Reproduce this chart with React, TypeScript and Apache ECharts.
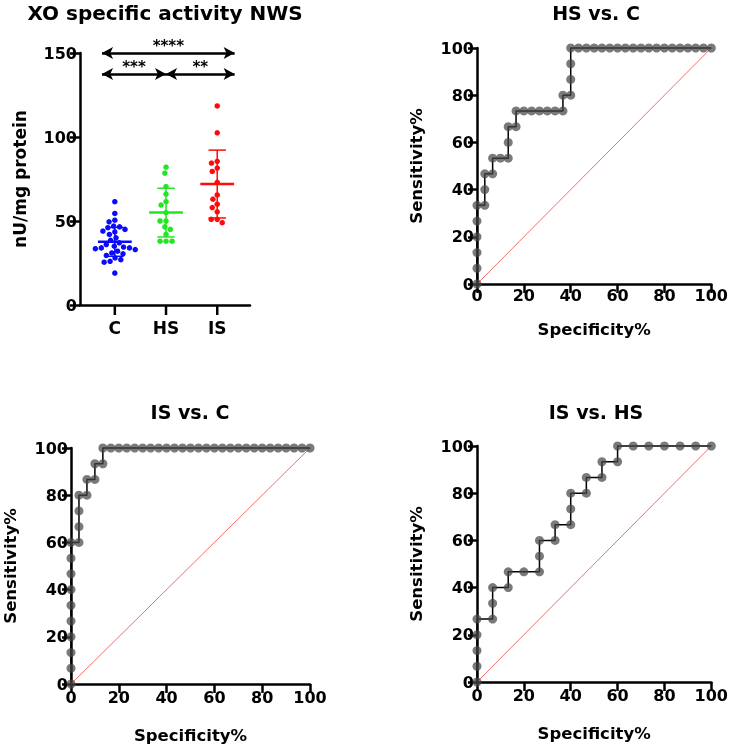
import React, { useEffect, useRef } from 'react';
import * as echarts from 'echarts';

// ---------- Data ----------
const groupNames = ['C', 'HS', 'IS'];
const groupColors = ['#0a0aff', '#22e622', '#ff0a0a'];

const cValues = [61.5, 54.5, 50.5, 49.5, 47, 46.5, 46, 45, 44, 43.5, 42, 40, 38.5, 37, 36, 35, 34.5, 34, 34, 33.5, 33, 32, 31, 30.5, 29.5, 28, 27, 26, 25.5, 19];
const hsValues = [82, 78.5, 70.5, 66, 61.5, 59.5, 55, 50, 50, 46.5, 45, 42, 38, 38, 38];
const isValues = [118.5, 102.5, 85.5, 84.5, 81.5, 79.5, 73, 65.5, 63, 60, 58, 55.5, 51, 51, 49];

const groupMeans = [37.6, 55, 72];
const groupSDs = [8.6, 14.5, 20.2];

const sigLabels = ['****', '***', '**'];
const sigFrom = [-0.25, -0.25, 1.0];
const sigTo = [2.34, 1.0, 2.34];
const sigY = [150, 137.5, 137.5];

const yTicks1 = [0, 50, 100, 150];

const rocHsCSpec = [0, 0, 0, 0, 0, 0, 3.33, 3.33, 3.33, 6.67, 6.67, 10, 13.33, 13.33, 13.33, 16.67, 16.67, 20, 23.33, 26.67, 30, 33.33, 36.67, 36.67, 40, 40, 40, 40, 43.33, 46.67, 50, 53.33, 56.67, 60, 63.33, 66.67, 70, 73.33, 76.67, 80, 83.33, 86.67, 90, 93.33, 96.67, 100];
const rocHsCSens = [0, 6.67, 13.33, 20, 26.67, 33.33, 33.33, 40, 46.67, 46.67, 53.33, 53.33, 53.33, 60, 66.67, 66.67, 73.33, 73.33, 73.33, 73.33, 73.33, 73.33, 73.33, 80, 80, 86.67, 93.33, 100, 100, 100, 100, 100, 100, 100, 100, 100, 100, 100, 100, 100, 100, 100, 100, 100, 100, 100];

const rocIsCSpec = [0, 0, 0, 0, 0, 0, 0, 0, 0, 0, 3.33, 3.33, 3.33, 3.33, 6.67, 6.67, 10, 10, 13.33, 13.33, 16.67, 20, 23.33, 26.67, 30, 33.33, 36.67, 40, 43.33, 46.67, 50, 53.33, 56.67, 60, 63.33, 66.67, 70, 73.33, 76.67, 80, 83.33, 86.67, 90, 93.33, 96.67, 100];
const rocIsCSens = [0, 6.67, 13.33, 20, 26.67, 33.33, 40, 46.67, 53.33, 60, 60, 66.67, 73.33, 80, 80, 86.67, 86.67, 93.33, 93.33, 100, 100, 100, 100, 100, 100, 100, 100, 100, 100, 100, 100, 100, 100, 100, 100, 100, 100, 100, 100, 100, 100, 100, 100, 100, 100, 100];

const rocIsHsSpec = [0, 0, 0, 0, 0, 6.67, 6.67, 6.67, 13.33, 13.33, 20, 26.67, 26.67, 26.67, 33.33, 33.33, 40, 40, 40, 46.67, 46.67, 53.33, 53.33, 60, 60, 66.67, 73.33, 80, 86.67, 93.33, 100];
const rocIsHsSens = [0, 6.67, 13.33, 20, 26.67, 26.67, 33.33, 40, 40, 46.67, 46.67, 46.67, 53.33, 60, 60, 66.67, 66.67, 73.33, 80, 80, 86.67, 86.67, 93.33, 93.33, 100, 100, 100, 100, 100, 100, 100];

const rocTitles = ['HS vs. C', 'IS vs. C', 'IS vs. HS'];

// ---------- Helpers ----------
const FONT = 'DejaVu Sans';

function beeswarm(values: number[], pxPerX: number, pxPerY: number, d: number): number[] {
  const placed: { x: number; y: number }[] = [];
  const order = values.map((_, i) => i).sort((a, b) => values[b] - values[a]);
  const offsets = new Array(values.length).fill(0);
  for (const i of order) {
    const y = values[i] * pxPerY;
    const forb: [number, number][] = [];
    for (const p of placed) {
      const dy = Math.abs(p.y - y);
      if (dy < d) {
        const dx = Math.sqrt(d * d - dy * dy);
        forb.push([p.x - dx, p.x + dx]);
      }
    }
    const cands = [0];
    forb.forEach(([a, b]) => cands.push(a, b));
    cands.sort((a, b) => Math.abs(a) - Math.abs(b) || a - b);
    let chosen = 0;
    for (const c of cands) {
      if (forb.every(([a, b]) => c <= a + 1e-6 || c >= b - 1e-6)) {
        chosen = c;
        break;
      }
    }
    placed.push({ x: chosen, y });
    offsets[i] = chosen / pxPerX;
  }
  return offsets;
}

const axisLineStyle = { color: '#000', width: 2.5 };
const labelStyle = (size: number) => ({ color: '#000', fontFamily: FONT, fontWeight: 'bold' as const, fontSize: size });

export default function App() {
  const ref = useRef<HTMLDivElement>(null);

  useEffect(() => {
    if (!ref.current) return;
    const chart = echarts.init(ref.current, undefined, { renderer: 'svg' });

    const groups = [cValues, hsValues, isValues];
    const scatterSeries = groups.map((vals, gi) => {
      const offs = beeswarm(vals, 51.2, 1.68, 6);
      return {
        type: 'scatter',
        xAxisIndex: 0,
        yAxisIndex: 0,
        symbolSize: 5.5,
        clip: false,
        z: 3,
        itemStyle: { color: groupColors[gi], opacity: 1 },
        data: vals.map((v, i) => [gi + offs[i], v]),
        ...(gi === 0
          ? {
              markLine: {
                silent: true,
                animation: false,
                symbol: ['arrow', 'arrow'],
                symbolSize: [9, 11],
                lineStyle: { color: '#000', width: 2.5, type: 'solid' },
                label: {
                  show: true,
                  position: 'middle',
                  formatter: '{b}',
                  distance: 0,
                  ...labelStyle(15),
                },
                data: sigLabels.map((lab, k) => [
                  { name: lab, coord: [sigFrom[k], sigY[k]] },
                  { coord: [sigTo[k], sigY[k]] },
                ]),
              },
            }
          : {}),
      };
    });

    const errSeries = {
      type: 'custom',
      xAxisIndex: 0,
      yAxisIndex: 0,
      z: 2,
      clip: false,
      data: groupMeans.map((m, i) => [i, m, groupSDs[i]]),
      renderItem: (params: any, api: any) => {
        const i = api.value(0);
        const m = api.value(1);
        const sd = api.value(2);
        const c = groupColors[params.dataIndex];
        const ml = api.coord([i - 0.33, m]);
        const mr = api.coord([i + 0.33, m]);
        const top = api.coord([i, m + sd]);
        const bot = api.coord([i, m - sd]);
        const tl = api.coord([i - 0.17, m + sd]);
        const tr = api.coord([i + 0.17, m + sd]);
        const bl = api.coord([i - 0.17, m - sd]);
        const br = api.coord([i + 0.17, m - sd]);
        const base = api.coord([i, 0]);
        const ln = (a: number[], b: number[], w: number, col: string) => ({
          type: 'line',
          shape: { x1: a[0], y1: a[1], x2: b[0], y2: b[1] },
          style: { stroke: col, lineWidth: w },
        });
        return {
          type: 'group',
          children: [
            ln(ml, mr, 2.5, c),
            ln(top, bot, 1.5, c),
            ln(tl, tr, 1.5, c),
            ln(bl, br, 1.5, c),
            // category tick below the x axis
            ln([base[0], base[1]], [base[0], base[1] + 10], 2.5, '#000'),
          ],
        };
      },
    };

    const rocGrids = [
      { left: 477, top: 48, width: 239, height: 236 },
      { left: 71, top: 448, width: 239, height: 236 },
      { left: 477, top: 446, width: 237, height: 236 },
    ];
    const rocXLabelMargin = [3, 5, 5];
    const rocXNameGap = [37, 43, 43];
    const rocData = [
      [rocHsCSpec, rocHsCSens],
      [rocIsCSpec, rocIsCSens],
      [rocIsHsSpec, rocIsHsSens],
    ];

    const xAxes: any[] = [
      {
        gridIndex: 0,
        type: 'value',
        min: -0.68,
        max: 2.64,
        axisLine: { show: true, onZero: false, lineStyle: axisLineStyle },
        axisTick: { show: false },
        axisLabel: {
          customValues: [0, 1, 2],
          formatter: (v: number) => groupNames[Math.round(v)] ?? '',
          margin: 14,
          ...labelStyle(17),
        },
        splitLine: { show: false },
      },
    ];
    const yAxes: any[] = [
      {
        gridIndex: 0,
        type: 'value',
        min: 0,
        max: 150,
        interval: 50,
        name: 'nU/mg protein',
        nameLocation: 'middle',
        nameGap: 52,
        nameTextStyle: labelStyle(17),
        axisLine: { show: true, onZero: false, lineStyle: axisLineStyle },
        axisTick: { show: true, length: 10, lineStyle: axisLineStyle },
        axisLabel: { margin: 3, ...labelStyle(16), formatter: (v: number) => (yTicks1.includes(v) ? String(v) : '') },
        splitLine: { show: false },
      },
    ];
    rocGrids.forEach((_, k) => {
      xAxes.push({
        gridIndex: k + 1,
        type: 'value',
        min: 0,
        max: 100,
        interval: 20,
        name: 'Specificity%',
        nameLocation: 'middle',
        nameGap: rocXNameGap[k],
        nameTextStyle: labelStyle(16.5),
        axisLine: { show: true, onZero: false, lineStyle: axisLineStyle },
        axisTick: { show: true, length: 9, lineStyle: axisLineStyle },
        axisLabel: { margin: rocXLabelMargin[k], ...labelStyle(16) },
        splitLine: { show: false },
      });
      yAxes.push({
        gridIndex: k + 1,
        type: 'value',
        min: 0,
        max: 100,
        interval: 20,
        name: 'Sensitivity%',
        nameLocation: 'middle',
        nameGap: 52,
        nameTextStyle: labelStyle(16.5),
        axisLine: { show: true, onZero: false, lineStyle: axisLineStyle },
        axisTick: { show: true, length: 9, lineStyle: axisLineStyle },
        axisLabel: { margin: 3, ...labelStyle(16) },
        splitLine: { show: false },
      });
    });

    const rocSeries: any[] = [];
    rocData.forEach(([spec, sens], k) => {
      rocSeries.push({
        type: 'line',
        xAxisIndex: k + 1,
        yAxisIndex: k + 1,
        data: [
          [0, 0],
          [100, 100],
        ],
        symbol: 'none',
        clip: false,
        z: 1,
        lineStyle: { color: '#f04848', width: 1, type: 'solid', opacity: 0.8 },
      });
      rocSeries.push({
        type: 'line',
        xAxisIndex: k + 1,
        yAxisIndex: k + 1,
        data: spec.map((s, i) => [s, sens[i]]),
        symbol: 'circle',
        symbolSize: 9,
        showSymbol: true,
        clip: false,
        z: 3,
        lineStyle: { color: '#000', width: 1.5 },
        itemStyle: { color: 'rgba(70,70,70,0.72)', borderWidth: 0 },
      });
    });

    const titleCommon = { textAlign: 'center', padding: 0 };
    chart.setOption({
      animation: false,
      title: [
        { ...titleCommon, text: 'XO specific activity NWS', left: 165, top: 3, textStyle: labelStyle(20) },
        { ...titleCommon, text: rocTitles[0], left: 596, top: 3, textStyle: labelStyle(19) },
        { ...titleCommon, text: rocTitles[1], left: 190, top: 402, textStyle: labelStyle(19) },
        { ...titleCommon, text: rocTitles[2], left: 596, top: 402, textStyle: labelStyle(19) },
      ],
      grid: [{ left: 80, top: 53, width: 170, height: 252 }, ...rocGrids],
      xAxis: xAxes,
      yAxis: yAxes,
      series: [errSeries, ...scatterSeries, ...rocSeries],
    });

    return () => chart.dispose();
  }, []);

  return <div ref={ref} style={{ position: 'fixed', left: 0, top: 0, width: 731, height: 749 }} />;
}
